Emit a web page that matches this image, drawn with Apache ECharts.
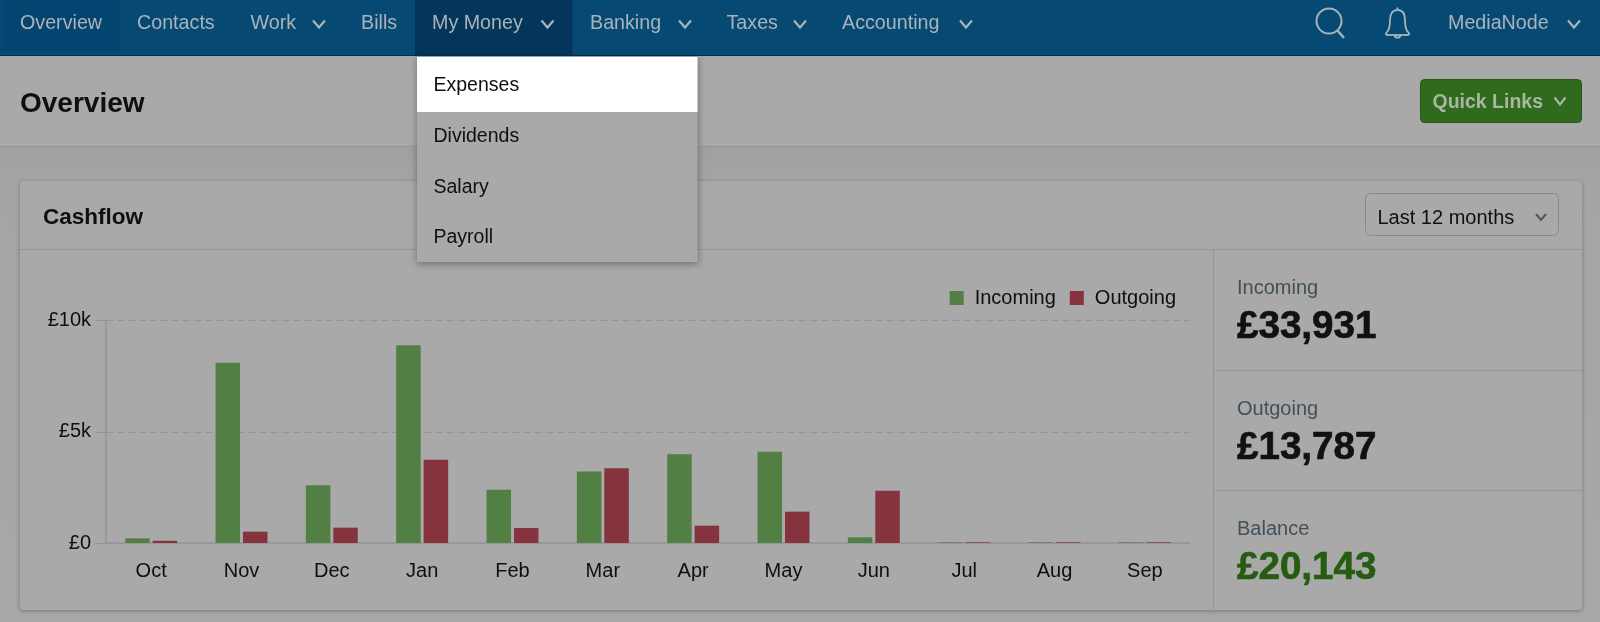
<!DOCTYPE html>
<html>
<head>
<meta charset="utf-8">
<title>Cashflow</title>
<style>
  html, body { margin: 0; padding: 0; background: #a6a6a6; }
  #chart { width: 1600px; height: 622px; }
</style>
<script src="https://cdn.jsdelivr.net/npm/echarts@6/dist/echarts.min.js"></script>
</head>
<body>
<div id="chart"></div>
<script>
var categories = ['Oct', 'Nov', 'Dec', 'Jan', 'Feb', 'Mar', 'Apr', 'May', 'Jun', 'Jul', 'Aug', 'Sep'];
var incoming = [210, 8110, 2600, 8900, 2400, 3220, 3990, 4110, 255, 30, 30, 30];
var outgoing = [100, 510, 690, 3750, 675, 3360, 780, 1410, 2355, 30, 30, 30];

var navLabels = ['Overview', 'Contacts', 'Work', 'Bills', 'My Money', 'Banking', 'Taxes', 'Accounting', 'MediaNode'];
var navX = [20, 137, 250.5, 361, 432, 590, 726.5, 842, 1448];
var navChevronX = [null, null, 319, null, 547.5, 685, 800, 966, 1574];
var menuLabels = ['Expenses', 'Dividends', 'Salary', 'Payroll'];
var menuY = [86, 137, 188, 238];
var statLabels = ['Incoming', 'Outgoing', 'Balance'];
var statValues = ['£33,931', '£13,787', '£20,143'];
var statLabelY = [288, 409, 529];
var statValueY = [327, 448, 568];

var FONT = '"Liberation Sans", Arial, sans-serif';
var NAV_TEXT = '#a9b3b9';

function rect(x, y, w, h, fill, extra) {
  var style = Object.assign({ fill: fill }, extra && extra.style);
  return { type: 'rect', shape: { x: x, y: y, width: w, height: h, r: (extra && extra.r) || 0 }, style: style, silent: true };
}
function hline(x1, x2, y, color) {
  return { type: 'line', shape: { x1: x1, y1: y, x2: x2, y2: y }, style: { stroke: color, lineWidth: 1 }, silent: true };
}
function vline(x, y1, y2, color) {
  return { type: 'line', shape: { x1: x, y1: y1, x2: x, y2: y2 }, style: { stroke: color, lineWidth: 1 }, silent: true };
}
function label(text, x, y, size, color, bold, heavy) {
  var style = {
    text: text, x: x, y: y, fill: color,
    font: (bold ? 'bold ' : '') + size + 'px ' + FONT,
    verticalAlign: 'middle', textVerticalAlign: 'middle'
  };
  if (heavy) {
    style.stroke = color;
    style.lineWidth = heavy;
  }
  return { type: 'text', silent: true, style: style };
}
function chevron(cx, cy, w, h, color, lw) {
  return {
    type: 'polyline',
    silent: true,
    shape: { points: [[cx - w / 2, cy - h / 2], [cx, cy + h / 2], [cx + w / 2, cy - h / 2]] },
    style: { stroke: color, lineWidth: lw, fill: null }
  };
}

// bell outline, relative to its top left corner
function bell(ox, oy, color) {
  var curves = [
    [3, 25, 6, 22, 6, 18, 6, 13],
    [6, 13, 6, 6, 9, 3, 13.5, 3],
    [13.5, 3, 18, 3, 21, 6, 21, 13],
    [21, 13, 21, 18, 21, 22, 24, 25],
    [24, 25, 26, 27, 25, 28, 23, 28],
    [4, 28, 2, 28, 1, 27, 3, 25],
    [10.5, 28, 11, 31.5, 16, 31.5, 16.5, 28]
  ];
  var els = curves.map(function (c) {
    return {
      type: 'bezierCurve',
      silent: true,
      shape: { x1: ox + c[0], y1: oy + c[1], cpx1: ox + c[2], cpy1: oy + c[3], cpx2: ox + c[4], cpy2: oy + c[5], x2: ox + c[6], y2: oy + c[7] },
      style: { stroke: color, lineWidth: 1.8, fill: null }
    };
  });
  els.push({ type: 'line', silent: true, shape: { x1: ox + 4, y1: oy + 28, x2: ox + 23, y2: oy + 28 }, style: { stroke: color, lineWidth: 1.8 } });
  els.push({ type: 'line', silent: true, shape: { x1: ox + 13.5, y1: oy + 3, x2: ox + 13.5, y2: oy + 0.5 }, style: { stroke: color, lineWidth: 1.8 } });
  return els;
}

function buildChrome() {
  var els = [];

  // top nav
  els.push(rect(0, 0, 1600, 55, '#064a74'));
  els.push(rect(0, 55, 1600, 1, '#04304c'));
  els.push(rect(3, 0, 117, 51, '#044470'));
  els.push(rect(415, 0, 157.5, 55, '#04355a'));
  navLabels.forEach(function (name, i) {
    els.push(label(name, navX[i], 24, 19.7, NAV_TEXT));
    if (navChevronX[i] != null) {
      els.push(chevron(navChevronX[i], 24, 12, 7, NAV_TEXT, 2.2));
    }
  });

  // search + bell
  els.push({ type: 'circle', silent: true, shape: { cx: 1329, cy: 21, r: 12.5 }, style: { stroke: NAV_TEXT, lineWidth: 2, fill: null } });
  els.push({ type: 'line', silent: true, shape: { x1: 1337.5, y1: 30.5, x2: 1344, y2: 38 }, style: { stroke: NAV_TEXT, lineWidth: 2.4 } });
  els = els.concat(bell(1384, 7, NAV_TEXT));

  // page header
  els.push(rect(0, 56, 1600, 90, '#a9a9a9'));
  els.push(rect(0, 147, 1600, 475, {
    type: 'linear', x: 0, y: 0, x2: 0, y2: 1,
    colorStops: [{ offset: 0, color: '#a0a0a0' }, { offset: 0.08, color: '#a5a5a5' }, { offset: 1, color: '#a8a8a8' }]
  }));
  els.push(hline(0, 1600, 146.5, '#8f9797'));
  els.push(label('Overview', 20, 104, 28, '#0f0f0f', true));

  // quick links button
  els.push(rect(1420.5, 79.5, 161, 43, '#306a1d', { r: 4, style: { stroke: '#285617', lineWidth: 1 } }));
  els.push(label('Quick Links', 1432.5, 102.5, 19.5, '#a9b7a2', true));
  els.push(chevron(1560, 101, 11, 7, '#a9b7a2', 2.2));

  // card
  els.push(rect(20, 181, 1562, 429, '#a9a9a9', { r: 3, style: { shadowBlur: 4, shadowColor: 'rgba(0,0,0,0.3)', shadowOffsetY: 1 } }));
  els.push(hline(20, 1582, 249.5, '#8f9797'));
  els.push(vline(1213.5, 250, 610, '#8f9797'));
  els.push(hline(1214, 1582, 370.5, '#8f9797'));
  els.push(hline(1214, 1582, 490.5, '#8f9797'));
  els.push(label('Cashflow', 43, 218, 22.5, '#0f0f0f', true));

  // period select
  els.push(rect(1365.5, 193.5, 193, 42, '#a9a9a9', { r: 5, style: { stroke: '#868c8c', lineWidth: 1 } }));
  els.push(label('Last 12 months', 1377.5, 218, 20, '#0f0f0f'));
  els.push(chevron(1541, 217, 10, 6, '#50565a', 2));

  // dropdown
  els.push(rect(417, 56, 280.5, 206, '#a9a9a9', { style: { shadowBlur: 7, shadowColor: 'rgba(0,0,0,0.35)', shadowOffsetY: 2 } }));
  els.push(rect(417, 56, 280.5, 1, '#7aa8cc'));
  els.push(rect(417, 57, 280.5, 55, '#ffffff'));
  menuLabels.forEach(function (name, i) {
    els.push(label(name, 433.5, menuY[i], 19.5, '#0f0f0f'));
  });

  // stats
  statLabels.forEach(function (name, i) {
    els.push(label(name, 1237, statLabelY[i], 20, '#42505a'));
    els.push(label(statValues[i], 1237, statValueY[i], 38.6, i === 2 ? '#265c12' : '#111111', true, 0.7));
  });

  return els;
}

var chart = echarts.init(document.getElementById('chart'));
chart.setOption({
  animation: false,
  backgroundColor: '#a6a6a6',
  textStyle: { fontFamily: FONT },
  graphic: { elements: buildChrome() },
  legend: {
    data: ['Incoming', 'Outgoing'],
    right: 424,
    top: 288,
    padding: 0,
    itemWidth: 14,
    itemHeight: 14,
    itemGap: 14,
    icon: 'rect',
    textStyle: { fontSize: 20, color: '#0f0f0f', fontFamily: FONT, padding: [0, 0, 0, 6] }
  },
  grid: { left: 106, right: 410, top: 320.7, height: 222.3, containLabel: false },
  xAxis: {
    type: 'category',
    data: categories,
    axisLine: { lineStyle: { color: '#94949a', width: 1.5 } },
    axisTick: { show: false },
    axisLabel: { fontSize: 20, color: '#0f0f0f', margin: 18, fontFamily: FONT }
  },
  yAxis: {
    type: 'value',
    min: 0,
    max: 10000,
    interval: 5000,
    axisLine: { show: true, lineStyle: { color: '#94949a', width: 1.5 } },
    axisTick: { show: true, length: 11, lineStyle: { color: '#94949a', width: 1 } },
    axisLabel: {
      fontSize: 20,
      color: '#0f0f0f',
      margin: 15,
      fontFamily: FONT,
      formatter: function (v) { return v === 0 ? '£0' : '£' + v / 1000 + 'k'; }
    },
    splitLine: { lineStyle: { color: '#949494', type: [7, 4], width: 1.2 } }
  },
  series: [
    { name: 'Incoming', type: 'bar', data: incoming, barWidth: 24.5, barGap: '12%', itemStyle: { color: '#527f44' } },
    { name: 'Outgoing', type: 'bar', data: outgoing, barWidth: 24.5, itemStyle: { color: '#85343e' } }
  ]
});
</script>
</body>
</html>
